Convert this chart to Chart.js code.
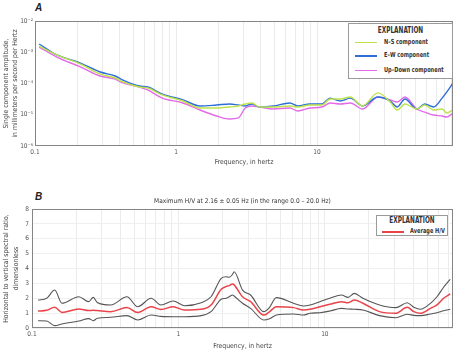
<!DOCTYPE html>
<html>
<head>
<meta charset="utf-8">
<script src="https://cdn.jsdelivr.net/npm/chart.js@4.4.1/dist/chart.umd.min.js"></script>
<style>
  body { margin: 0; background: #fff; width: 474px; height: 353px; overflow: hidden; position: relative;
         font-family: 'DejaVu Sans Condensed', 'DejaVu Sans', sans-serif; color: #333; }
  canvas { position: absolute; left: 0; }
  .tag { position: absolute; font: italic bold 10px 'Liberation Sans', Arial, sans-serif; color: #222; }
  .legend { position: absolute; box-sizing: border-box; border: 1px solid #9a9a9a; background: #fff; }
  .legend div { position: absolute; white-space: nowrap; font-size: 7px; font-weight: bold; line-height: 10px; height: 10px;
                color: #333; transform: scaleX(0.8); transform-origin: left center; }
  .legend div.head { transform-origin: center center; }
  .legend .sw { position: absolute; height: 1.5px; }
</style>
</head>
<body>
<div class="tag" style="left:35px;top:2px">A</div>
<div class="tag" style="left:35px;top:191px">B</div>
<canvas id="chartA" width="474" height="172" style="top:0"></canvas>
<canvas id="chartB" width="474" height="181" style="top:172px"></canvas>
<div class="legend" id="legA" style="left:348px;top:23px;width:105px;height:56px"></div>
<div class="legend" id="legB" style="left:376px;top:215px;width:72px;height:21px"></div>
<script>
// panel A - single component spectra (mm/s/Hz)
var freqA = [0.107, 0.143, 0.21, 0.29, 0.37, 0.42, 0.55, 0.63, 0.8, 1.12, 1.48, 1.94, 2.4, 2.76, 3.1, 3.45, 3.9, 4.9, 6.4, 7.3,
             8.9, 10.8, 12.4, 14.6, 17.2, 21, 27, 33, 37, 42, 51, 58, 67, 77, 83, 92];
var nsAmp = [1.58e-3, 8.2e-4, 4.2e-4, 2.0e-4, 1.5e-4, 1.12e-4, 7.7e-5, 7.2e-5, 4.3e-5, 2.75e-5, 1.64e-5, 1.64e-5, 1.77e-5, 1.91e-5, 2.21e-5, 2.38e-5, 1.77e-5, 1.77e-5, 1.91e-5, 1.77e-5,
             2.05e-5, 2.05e-5, 3.2e-5, 3.2e-5, 3.7e-5, 1.91e-5, 5.0e-5, 2.56e-5, 1.42e-5, 2.21e-5, 1.53e-5, 2.05e-5, 1.42e-5, 1.53e-5, 1.14e-5, 1.42e-5];
var ewAmp = [1.84e-3, 8.2e-4, 4.5e-4, 2.33e-4, 1.74e-4, 1.29e-4, 8.3e-5, 7.7e-5, 4.6e-5, 3.0e-5, 1.91e-5, 2.05e-5, 2.21e-5, 2.05e-5, 1.91e-5, 2.21e-5, 1.77e-5, 1.91e-5, 2.38e-5, 1.91e-5,
             2.21e-5, 2.21e-5, 3.4e-5, 2.75e-5, 3.4e-5, 1.91e-5, 3.7e-5, 2.75e-5, 1.77e-5, 3.2e-5, 1.53e-5, 2.21e-5, 1.77e-5, 3.4e-5, 5.3e-5, 1.04e-4];
var udAmp = [1.47e-3, 7.0e-4, 3.4e-4, 1.74e-4, 1.39e-4, 1.04e-4, 7.7e-5, 6.2e-5, 3.4e-5, 2.38e-5, 1.42e-5, 9.1e-6, 7.3e-6, 7.9e-6, 1.64e-5, 1.91e-5, 1.77e-5, 1.53e-5, 1.64e-5, 1.32e-5,
             1.64e-5, 1.77e-5, 2.38e-5, 2.21e-5, 2.38e-5, 1.53e-5, 3.7e-5, 3.0e-5, 2.56e-5, 3.7e-5, 1.53e-5, 1.22e-5, 9.8e-6, 9.1e-6, 8.5e-6, 1.14e-5];
var namesA = ['N\u2013S component', 'E\u2013W component', 'Up\u2013Down component'];
var colorsA = ['#bde24c', '#2e6fd6', '#e46ae8'];
var yTicksA = [1e-6, 1e-5, 1e-4, 1e-3, 1e-2];
var yLabelsA = ['10\u207B\u2076', '10\u207B\u2075', '10\u207B\u2074', '10\u207B\u00B3', '10\u207B\u00B2'];

// panel B - H/V ratio
var freqB = [0.11, 0.126, 0.143, 0.16, 0.209, 0.244, 0.262, 0.279, 0.345, 0.445, 0.527, 0.651, 0.76, 0.92, 1.1, 1.43, 1.67, 1.96, 2.11, 2.22,
             2.34, 2.4, 2.74, 3.11, 3.83, 4.14, 4.67, 6.11, 7.14, 7.92, 9.25, 10.8, 13.0, 14.4, 15.9, 18.2, 23.6, 30.5, 36.5, 40.5,
             45, 52.6, 58.3, 64.7, 71.8];
var hvAvg   = [1.14, 1.19, 1.39, 1.05, 1.28, 1.17, 1.19, 1.17, 1.1, 1.37, 1.05, 1.43, 1.24, 1.43, 1.21, 1.26, 1.55, 2.6, 2.78, 2.85,
               2.96, 2.9, 2.1, 1.77, 0.87, 1.05, 1.43, 1.37, 1.21, 1.26, 1.43, 1.59, 1.77, 1.7, 1.88, 1.66, 1.1, 0.99, 1.39, 1.1,
               0.99, 1.32, 1.55, 2.0, 2.29];
var hvUpper = [1.88, 2.0, 2.55, 1.66, 2.1, 1.77, 2.06, 1.72, 1.55, 2.1, 1.43, 2.0, 1.55, 1.82, 1.5, 1.7, 2.1, 3.34, 3.45, 3.41,
               3.6, 3.78, 2.55, 2.22, 1.1, 1.32, 2.04, 1.66, 1.48, 1.55, 1.77, 2.0, 2.22, 2.06, 2.33, 2.0, 1.55, 1.37, 1.7, 1.4,
               1.26, 1.66, 2.1, 2.74, 3.27];
var hvLower = [0.49, 0.47, 0.16, 0.27, 0.47, 0.63, 0.49, 0.65, 0.72, 0.83, 0.54, 0.87, 0.78, 0.76, 0.76, 0.83, 1.1, 1.93, 2.0, 2.1,
               2.22, 2.15, 1.66, 1.32, 0.54, 0.6, 0.87, 0.94, 0.87, 0.99, 1.03, 1.14, 1.32, 1.28, 1.26, 1.21, 0.83, 0.69, 0.92, 0.85,
               0.83, 0.94, 1.03, 1.16, 1.26];
var nameB = 'Average H/V';
var titleB = 'Maximum H/V at 2.16 \u00B1 0.05 Hz (in the range 0.0 \u2013 20.0 Hz)';

var xDecades = [0.1, 1, 10];
var xLabels = ['0.1', '1', '10'];

var font = "'DejaVu Sans Condensed', 'DejaVu Sans', sans-serif";

function pts(xs, ys) {
  var out = [];
  for (var i = 0; i < xs.length; i++) out.push({ x: xs[i], y: ys[i] });
  return out;
}

// grid at 1..9 x each decade, label only the decades
function logGrid(scale) {
  var t = [];
  for (var e = -1; e <= 1; e++) {
    for (var m = 1; m < 10; m++) {
      var v = m * Math.pow(10, e);
      if (v >= scale.min * 0.999 && v <= scale.max) t.push({ value: v });
    }
  }
  scale.ticks = t;
}
function decadeLabel(v) {
  for (var i = 0; i < xDecades.length; i++) {
    if (Math.abs(v - xDecades[i]) < xDecades[i] * 1e-6) return xLabels[i];
  }
  return '';
}

var boxPlugin = {
  id: 'plotBox',
  afterDraw: function (chart) {
    var a = chart.chartArea, ctx = chart.ctx;
    ctx.save();
    ctx.strokeStyle = '#858585';
    ctx.lineWidth = 1;
    ctx.strokeRect(a.left + 0.5, a.top + 0.5, a.right - a.left - 1, a.bottom - a.top - 1);
    ctx.restore();
  }
};

function line(label, data, color, width) {
  return {
    label: label,
    data: data,
    borderColor: color,
    backgroundColor: color,
    borderWidth: width,
    pointRadius: 0,
    fill: false,
    tension: 0.4,
    cubicInterpolationMode: 'monotone'
  };
}

var chartA = new Chart(document.getElementById('chartA').getContext('2d'), {
  type: 'line',
  data: {
    datasets: [
      line(namesA[0], pts(freqA, nsAmp), colorsA[0], 1.4),
      line(namesA[1], pts(freqA, ewAmp), colorsA[1], 1.4),
      line(namesA[2], pts(freqA, udAmp), colorsA[2], 1.4)
    ]
  },
  options: {
    responsive: false,
    animation: false,
    layout: { padding: { top: 21, right: 21, left: 0, bottom: 0 } },
    plugins: { legend: { display: false }, tooltip: { enabled: false } },
    scales: {
      x: {
        type: 'logarithmic', min: 0.1, max: 92,
        afterBuildTicks: logGrid,
        afterFit: function (s) { s.height = 26; },
        grid: { color: '#ebebeb', drawTicks: false },
        border: { display: false },
        ticks: { autoSkip: false, maxRotation: 0, padding: 2, color: '#555', font: { family: font, size: 6.5 },
                 callback: function (v) { return decadeLabel(v); } },
        title: { display: true, text: 'Frequency, in hertz', color: '#444', font: { family: font, size: 6.8 },
                 padding: { top: 0, bottom: 5.5 } }
      },
      y: {
        type: 'logarithmic', min: 1e-6, max: 1e-2,
        afterBuildTicks: function (s) { s.ticks = yTicksA.map(function (v) { return { value: v }; }); },
        afterFit: function (s) { s.width = 35; },
        grid: { display: false, drawTicks: false },
        border: { display: false },
        ticks: { padding: 2, color: '#555', font: { family: font, size: 6.5 },
                 callback: function (v) {
                   for (var i = 0; i < yTicksA.length; i++) if (Math.abs(v - yTicksA[i]) < yTicksA[i] * 1e-6) return yLabelsA[i];
                   return '';
                 } },
        title: { display: true, text: ['Single component amplitude,', 'in millimeters per second per Hertz'],
                 color: '#444', font: { family: font, size: 6.8, lineHeight: 1.35 }, padding: { top: 1.5, bottom: 0 } }
      }
    }
  },
  plugins: [boxPlugin]
});

var chartB = new Chart(document.getElementById('chartB').getContext('2d'), {
  type: 'line',
  data: {
    datasets: [
      line(nameB, pts(freqB, hvAvg), '#e8444a', 1.5),
      line('upper', pts(freqB, hvUpper), '#555555', 1.1),
      line('lower', pts(freqB, hvLower), '#555555', 1.1)
    ]
  },
  options: {
    responsive: false,
    animation: false,
    layout: { padding: { top: 0, right: 21, left: 0, bottom: 0 } },
    plugins: {
      legend: { display: false },
      tooltip: { enabled: false },
      title: { display: true, text: titleB, fullSize: false, color: '#333',
               font: { family: font, size: 6.5, weight: 'normal', lineHeight: 1.2 },
               padding: { top: 25.1, bottom: 4.1 } }
    },
    scales: {
      x: {
        type: 'logarithmic', min: 0.1, max: 75,
        afterBuildTicks: logGrid,
        afterFit: function (s) { s.height = 25; },
        grid: { color: '#ebebeb', drawTicks: false },
        border: { display: false },
        ticks: { autoSkip: false, maxRotation: 0, padding: 2, color: '#555', font: { family: font, size: 6.5 },
                 callback: function (v) { return decadeLabel(v); } },
        title: { display: true, text: 'Frequency, in hertz', color: '#444', font: { family: font, size: 6.8 },
                 padding: { top: 0, bottom: 3 } }
      },
      y: {
        min: 0, max: 8,
        afterFit: function (s) { s.width = 32; },
        grid: { color: '#efefef', drawTicks: false },
        border: { display: false },
        ticks: { stepSize: 1, padding: 3, color: '#555', font: { family: font, size: 6.5 } },
        title: { display: true, text: ['Horizontal to vertical spectral ratio,', 'dimensionless'],
                 color: '#444', font: { family: font, size: 6.8, lineHeight: 1.4 }, padding: { top: 1.5, bottom: 0 } }
      }
    }
  },
  plugins: [boxPlugin]
});

// explanation boxes
function legendRow(box, y, x0, x1, tx, color, text) {
  var sw = document.createElement('span');
  sw.className = 'sw';
  sw.style.left = x0 + 'px';
  sw.style.width = (x1 - x0) + 'px';
  sw.style.top = y + 'px';
  sw.style.background = color;
  box.appendChild(sw);
  var t = document.createElement('div');
  t.style.left = tx + 'px';
  t.style.top = (y - 5) + 'px';
  t.textContent = text;
  box.appendChild(t);
}
function legendHead(box, y) {
  var h = document.createElement('div');
  h.className = 'head';
  h.style.left = '0px';
  h.style.width = '100%';
  h.style.textAlign = 'center';
  h.style.top = (y - 5) + 'px';
  h.style.fontSize = '8px';
  h.textContent = 'EXPLANATION';
  box.appendChild(h);
}

var legA = document.getElementById('legA');
legendHead(legA, 7);
var rowsA = [17.5, 31, 45.5];
for (var i = 0; i < namesA.length; i++) legendRow(legA, rowsA[i], 6, 28, 35, colorsA[i], namesA[i]);

var legB = document.getElementById('legB');
legendHead(legB, 5);
legendRow(legB, 15, 5, 27, 33, '#e8444a', nameB);
</script>
</body>
</html>
